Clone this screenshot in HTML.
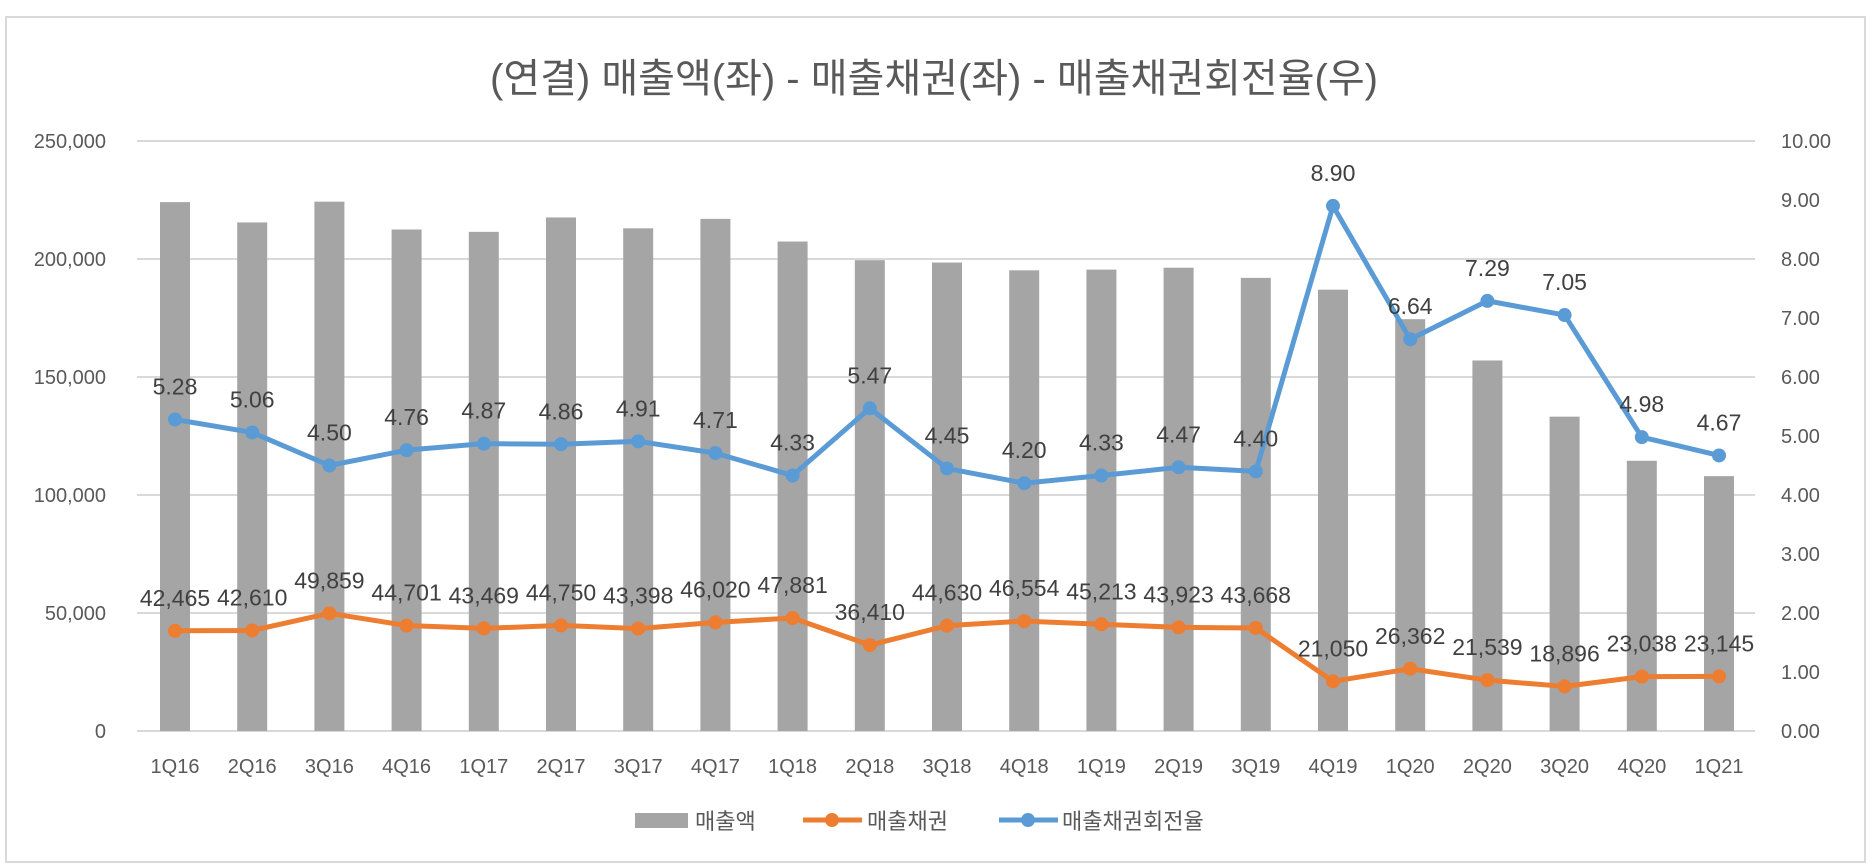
<!DOCTYPE html>
<html><head><meta charset="utf-8">
<style>
html,body{margin:0;padding:0;background:#fff;}
svg{display:block;font-family:"Liberation Sans","Noto Sans CJK KR",sans-serif;}
</style></head>
<body>
<svg width="1871" height="867" viewBox="0 0 1871 867">
<rect x="6" y="17" width="1859" height="845" fill="#fff" stroke="#d9d9d9" stroke-width="2"/>
<text x="934" y="92" text-anchor="middle" font-size="40" fill="#595959">(연결) 매출액(좌) - 매출채권(좌) - 매출채권회전율(우)</text>
<g id="grid"></g><g id="bars"></g><g id="lines"></g><g id="labels"></g><g id="axes"></g>
<g>
<rect x="635" y="813" width="53" height="15" fill="#a5a5a5"/>
<text x="695" y="829" font-size="22" fill="#595959">매출액</text>
<line x1="803" y1="820" x2="862" y2="820" stroke="#ed7d31" stroke-width="5"/>
<circle cx="832" cy="820" r="7" fill="#ed7d31"/>
<text x="867" y="829" font-size="22" fill="#595959">매출채권</text>
<line x1="999" y1="820" x2="1058" y2="820" stroke="#5b9bd5" stroke-width="5"/>
<circle cx="1028" cy="820" r="7" fill="#5b9bd5"/>
<text x="1062" y="829" font-size="22" fill="#595959">매출채권회전율</text>
</g>
</svg>
<script>
const categories=["1Q16","2Q16","3Q16","4Q16","1Q17","2Q17","3Q17","4Q17","1Q18","2Q18","3Q18","4Q18","1Q19","2Q19","3Q19","4Q19","1Q20","2Q20","3Q20","4Q20","1Q21"];
const sales=[224100,215500,224300,212500,211500,217600,213000,217000,207400,199500,198500,195200,195500,196300,192000,187000,174500,157000,133200,114500,108000];
const receivables=[42465,42610,49859,44701,43469,44750,43398,46020,47881,36410,44630,46554,45213,43923,43668,21050,26362,21539,18896,23038,23145];
const turnover=[5.28,5.06,4.50,4.76,4.87,4.86,4.91,4.71,4.33,5.47,4.45,4.20,4.33,4.47,4.40,8.90,6.64,7.29,7.05,4.98,4.67];
const leftTicks=[0,50000,100000,150000,200000,250000];
const rightTicks=[0,1,2,3,4,5,6,7,8,9,10];

const NS="http://www.w3.org/2000/svg";
const X0=175,DX=77.2,Y0=731,YT=141;
const xs=i=>X0+i*DX;
const yL=v=>Y0-(v/250000)*(Y0-YT);
const yR=v=>Y0-(v/10)*(Y0-YT);
function mk(tag,attrs,parent,txt){const e=document.createElementNS(NS,tag);for(const k in attrs)e.setAttribute(k,attrs[k]);if(txt!==undefined)e.textContent=txt;document.getElementById(parent).appendChild(e);return e;}
const fmt=n=>n.toLocaleString("en-US");

leftTicks.forEach((t,i)=>{
  const g=mk("line",{x1:137,x2:1755,y1:yL(t),y2:yL(t),stroke:"#d9d9d9","stroke-width":2},"grid");
  
  
  const l=mk("text",{x:106,y:yL(t)+7,"text-anchor":"end","font-size":20,fill:"#595959"},"axes",fmt(t));
  
  
});
rightTicks.forEach(t=>{
  const l=mk("text",{x:1781,y:yR(t)+7,"font-size":20,fill:"#595959"},"axes",t.toFixed(2));
  
  
});
categories.forEach((c,i)=>{
  const l=mk("text",{x:xs(i),y:773,"text-anchor":"middle","font-size":20,fill:"#595959"},"axes",c);
  
  
});
sales.forEach((v,i)=>{
  const b=mk("rect",{x:xs(i)-15,y:yL(v),width:30,height:Y0-yL(v),fill:"#a5a5a5"},"bars");
  
  
});
function series(vals,yf,color,name,lab){
  const p=mk("polyline",{points:vals.map((v,i)=>xs(i)+","+yf(v)).join(" "),fill:"none",stroke:color,"stroke-width":5,"stroke-linejoin":"round"},"lines");
  
  
  vals.forEach((v,i)=>{
    const c=mk("circle",{cx:xs(i),cy:yf(v),r:7,fill:color},"lines");
    
    
    const t=mk("text",{x:xs(i),y:yf(v)-25,"text-anchor":"middle","font-size":23,fill:"#404040"},"labels",lab(v));
    
    
  });
}
series(receivables,yL,"#ed7d31","receivables",fmt);
series(turnover,yR,"#5b9bd5","turnover",v=>v.toFixed(2));
</script>
</body></html>
